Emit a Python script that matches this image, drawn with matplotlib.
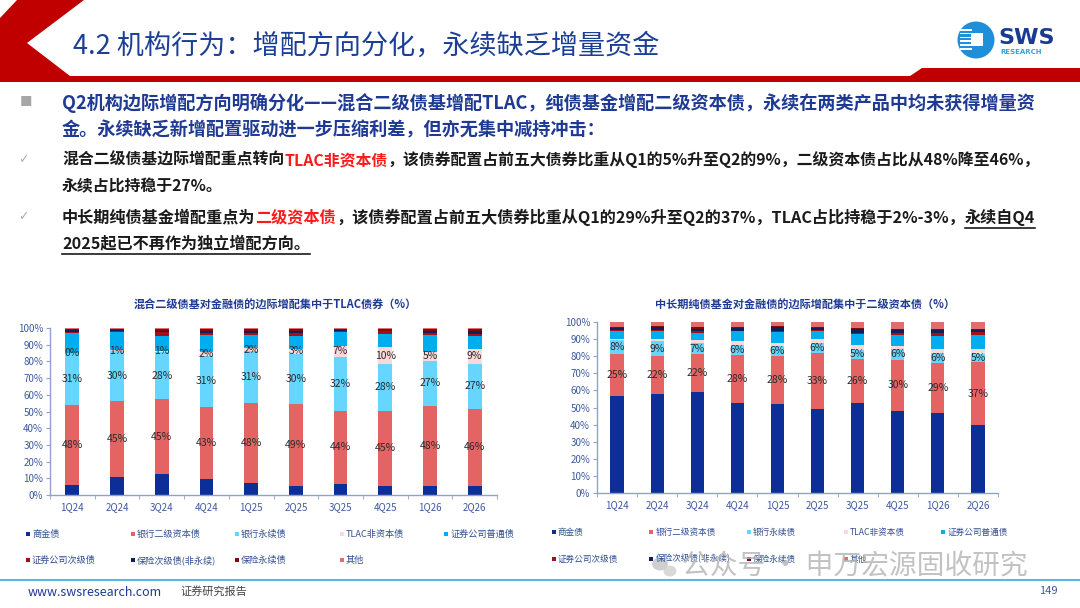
import matplotlib
matplotlib.use("Agg")
import matplotlib.pyplot as plt
import numpy as np
from matplotlib.patches import Polygon, Circle, Rectangle, Ellipse

plt.rcParams['font.family'] = ['Noto Sans CJK SC', 'DejaVu Sans']

# ---- data ----
quarters = ["1Q24", "2Q24", "3Q24", "4Q24", "1Q25", "2Q25", "3Q25", "4Q25", "1Q26", "2Q26"]
series_names = ["商金债", "银行二级资本债", "银行永续债", "TLAC非资本债", "证券公司普通债",
                "证券公司次级债", "保险次级债(非永续)", "保险永续债", "其他"]

# 混合二级债基
mix_shangjin = [6, 11, 12.5, 9.5, 7, 5.5, 6.5, 5.5, 5.5, 5.5]
mix_tier2 = [48, 45, 45, 43, 48, 49, 44, 45, 48, 46]
mix_perp = [31, 30, 28, 31, 31, 30, 32, 28, 27, 27]
mix_tlac = [0.3, 1, 1, 2, 2, 3, 7, 10, 5, 9]
mix_sec_gen = [11.5, 10.5, 9, 10.5, 8, 8, 8, 8, 10.5, 7.5]
mix_sec_sub = [0.7, 0.5, 2, 1, 1, 1.5, 1, 1.5, 1, 1.5]
mix_ins_sub = [1.5, 1, 1, 1.5, 1.5, 1, 0.5, 0.5, 1.5, 1.5]
mix_ins_perp = [0.5, 0.5, 1, 1, 1, 1.5, 0.5, 1, 1, 1.5]
mix_other = [0.5, 0.5, 0.5, 0.5, 0.5, 0.5, 0.5, 0.5, 0.5, 0.5]

# 中长期纯债基金
pure_shangjin = [56.5, 58, 59, 52.5, 52, 49, 52.5, 48, 47, 39.5]
pure_tier2 = [25, 22, 22, 28, 28, 33, 26, 30, 29, 37]
pure_perp = [8, 9, 7, 6, 6, 6, 5, 6, 6, 5]
pure_tlac = [0.5, 1, 1.5, 2.5, 2, 2, 3, 2, 2, 2.5]
pure_sec_gen = [4.5, 5, 4, 5.5, 6, 4.5, 6.5, 6.5, 8, 8.5]
pure_sec_sub = [1, 0.5, 1, 0.5, 1, 1, 0.5, 1, 1.5, 1.5]
pure_ins_sub = [1, 1.5, 1.5, 1.5, 2, 1, 2.5, 2, 2, 1.5]
pure_ins_perp = [0.5, 0.5, 1, 0.5, 0.5, 0.5, 0.5, 0.5, 0.5, 0.5]
pure_other = [3, 2.5, 3, 3, 2.5, 3, 3.5, 4, 4, 4]

colors = ["#0B2F96", "#E46464", "#66D6FF", "#F9D9DA", "#00AEEF",
          "#A50F15", "#0F1F5C", "#7A0E0E", "#E36C6C"]

mix_data = [mix_shangjin, mix_tier2, mix_perp, mix_tlac, mix_sec_gen,
            mix_sec_sub, mix_ins_sub, mix_ins_perp, mix_other]
pure_data = [pure_shangjin, pure_tier2, pure_perp, pure_tlac, pure_sec_gen,
             pure_sec_sub, pure_ins_sub, pure_ins_perp, pure_other]

W, H = 1080, 608
fig = plt.figure(figsize=(W / 100, H / 100), dpi=100)
fig.patch.set_facecolor("white")

# background axes in pixel coordinates
bg = fig.add_axes([0, 0, 1, 1])
bg.set_xlim(0, W)
bg.set_ylim(H, 0)
bg.axis("off")

# header
bg.add_patch(Polygon([(17, 0), (84, 0), (27, 43), (70, 76), (910, 76), (922, 68),
                      (1080, 68), (1080, 82), (0, 82), (0, 18)],
                     closed=True, color="#C00000", lw=0))
bg.text(73, 46, "4.2 机构行为：增配方向分化，永续缺乏增量资金", fontsize=19.5,
        color="#1B3F94", va="center", ha="left")

# logo
bg.add_patch(Circle((976, 40), 18.5, color="#1E8FD8", lw=0))
for k in range(6):
    bg.add_patch(Rectangle((960, 29 + k * 3.8), 12, 1.6, color="white", lw=0))
bg.add_patch(Rectangle((971, 33), 12, 13, color="white", lw=0))
bg.text(998, 38, "SWS", fontsize=16, weight="bold", color="#1A3B8F",
        va="center", ha="left", family="DejaVu Sans")
bg.text(1000, 52, "RESEARCH", fontsize=5, weight="bold", color="#3AA0E0",
        va="center", ha="left", family="DejaVu Sans")

renderer = fig.canvas.get_renderer()


def text_width(parts, size):
    s = "".join(p[0] for p in parts)
    t = bg.text(0, 0, s, fontsize=size, weight="bold")
    w = t.get_window_extent(renderer=renderer).width
    t.remove()
    return w


def rich(x, y, parts, size):
    for s, c, ul in parts:
        t = bg.text(x, y, s, fontsize=size, weight="bold", color=c, va="center", ha="left")
        bb = t.get_window_extent(renderer=renderer)
        if ul:
            bg.plot([x, bb.x1], [y + 11, y + 11], color=c, lw=1.2)
        x = bb.x1


def paragraph(x, ys, lines, right):
    # font size chosen so the first line ends where it does on the slide
    size = 12.6 * (right - x) / text_width(lines[0], 12.6)
    for y, parts in zip(ys, lines):
        rich(x, y, parts, size)


blue_t = "#1F3A93"
black_t = "#1A1A1A"
red_t = "#FF1A1A"

bg.text(20, 103, "■", fontsize=9, color="#A6A6A6", va="center", ha="left")
paragraph(62, [103, 130], [
    [("Q2机构边际增配方向明确分化——混合二级债基增配TLAC，纯债基金增配二级资本债，永续在两类产品中均未获得增量资", blue_t, False)],
    [("金。永续缺乏新增配置驱动进一步压缩利差，但亦无集中减持冲击：", blue_t, False)],
], 1037)

bg.text(18, 160, "✓", fontsize=9, color="#B0B0B0", va="center", ha="left", family="DejaVu Sans")
paragraph(62, [160, 186], [
    [("混合二级债基边际增配重点转向", black_t, False), ("TLAC非资本债", red_t, False),
     ("，该债券配置占前五大债券比重从Q1的5%升至Q2的9%，二级资本债占比从48%降至46%，", black_t, False)],
    [("永续占比持稳于27%。", black_t, False)],
], 1040)

bg.text(18, 217, "✓", fontsize=9, color="#B0B0B0", va="center", ha="left", family="DejaVu Sans")
paragraph(62, [217, 243], [
    [("中长期纯债基金增配重点为", black_t, False), ("二级资本债", red_t, False),
     ("，该债券配置占前五大债券比重从Q1的29%升至Q2的37%，TLAC占比持稳于2%-3%，", black_t, False),
     ("永续自Q4", black_t, True)],
    [("2025起已不再作为独立增配方向。", black_t, True)],
], 1035)

# chart titles
bg.text(275, 305, "混合二级债基对金融债的边际增配集中于TLAC债券（%）", fontsize=8,
        weight="bold", color="#1F3A93", ha="center", va="center")
bg.text(805, 305, "中长期纯债基金对金融债的边际增配集中于二级资本债（%）", fontsize=8,
        weight="bold", color="#1F3A93", ha="center", va="center")

axis_c = "#8FA2CC"
tick_c = "#3D5A9E"


def stacked(rect, data, labelled, bw):
    ax = fig.add_axes(rect)
    x = np.arange(len(quarters))
    bottom = np.zeros(len(quarters))
    for i, vals in enumerate(data):
        vals = np.array(vals, dtype=float)
        ax.bar(x, vals, bottom=bottom, width=bw, color=colors[i], lw=0, zorder=2)
        if i in labelled:
            for xi, v, b in zip(x, vals, bottom):
                ax.text(xi, b + v / 2, f"{v:.0f}%", fontsize=7.5, color="#2B2B2B",
                        ha="center", va="center", zorder=3)
        bottom += vals
    ax.set_xlim(-0.5, len(quarters) - 0.5)
    ax.set_ylim(0, 100)
    ax.set_yticks(np.arange(0, 101, 10))
    ax.set_yticklabels([f"{v}%" for v in range(0, 101, 10)])
    ax.set_xticks(x)
    ax.set_xticklabels(quarters)
    ax.set_xticks(np.arange(-0.5, len(quarters), 1), minor=True)
    for s in ["top", "right"]:
        ax.spines[s].set_visible(False)
    for s in ["left", "bottom"]:
        ax.spines[s].set_color(axis_c)
        ax.spines[s].set_linewidth(1)
    ax.tick_params(axis="y", length=3, color=axis_c, labelsize=7, labelcolor=tick_c, pad=2)
    ax.tick_params(axis="x", which="major", length=0, labelsize=7, labelcolor=tick_c, pad=5)
    ax.tick_params(axis="x", which="minor", length=3, color=axis_c)
    ax.set_facecolor("none")
    return ax


stacked([50 / W, 1 - 495 / H, 447 / W, 167 / H], mix_data, [1, 2, 3], 0.31)
stacked([597 / W, 1 - 493 / H, 401 / W, 171 / H], pure_data, [1, 2], 0.33)

# legends
leg_c = "#2F4E8F"


def legend(x0, dx, ys, size):
    for i, (name, c) in enumerate(zip(series_names, colors)):
        row, col = divmod(i, 5)
        x = x0 + col * dx
        y = ys[row]
        bg.add_patch(Rectangle((x - 2, y - 2), 4, 4, color=c, lw=0))
        bg.text(x + 4, y, name, fontsize=size, color=leg_c, va="center", ha="left")


legend(28, 104.6, [534, 560], 6.6)
legend(554, 97.3, [532, 559], 6.2)

# watermark
bg.add_patch(Ellipse((660, 564), 16, 13, color="#C4C4C4", lw=0, alpha=0.8))
bg.add_patch(Ellipse((670, 571), 13, 11, color="#D0D0D0", lw=0, alpha=0.8))
bg.text(682, 566, "公众号 · 申万宏源固收研究", fontsize=20, color="#B8B8B8",
        alpha=0.85, va="center", ha="left")

# footer
bg.plot([0, W], [580, 580], color="#5BB8E6", lw=1.5)
bg.text(28, 592, "www.swsresearch.com", fontsize=9, color="#1F3A93", va="center", ha="left")
bg.text(180, 591, "证券研究报告", fontsize=8, color="#444444", va="center", ha="left")
bg.text(1058, 591, "149", fontsize=8, color="#3D5A9E", va="center", ha="right")

fig.savefig("out.png", dpi=100)
